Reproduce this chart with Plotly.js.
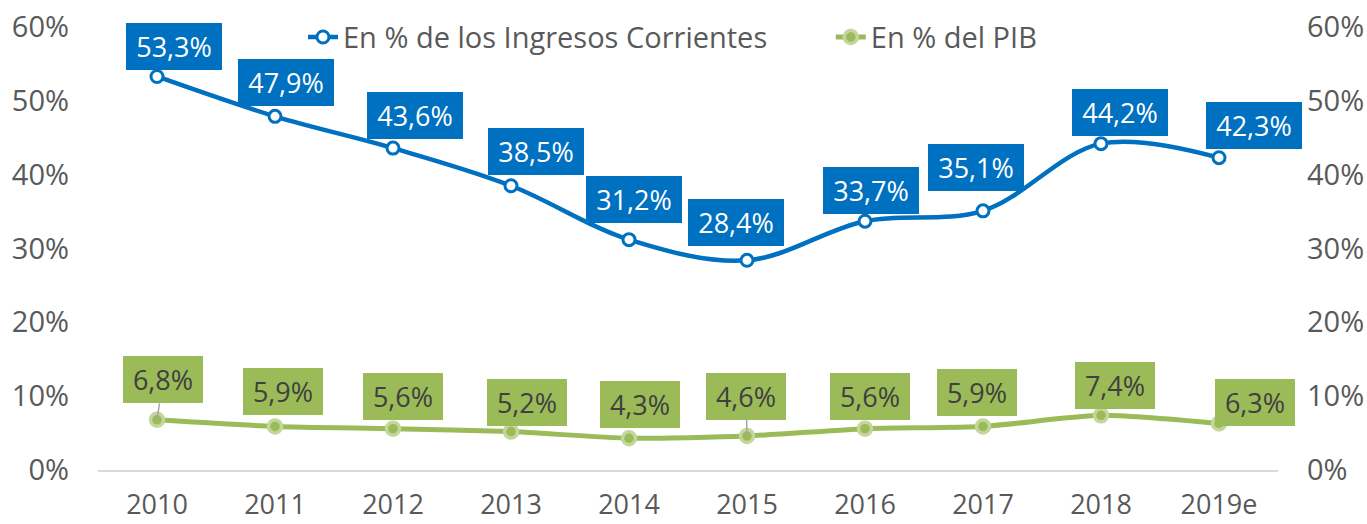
<!DOCTYPE html>
<html>
<head>
<meta charset="utf-8">
<script src="https://cdn.plot.ly/plotly-3.0.1.min.js"></script>
<style>html,body{margin:0;padding:0;background:#fff;}#chart{width:1367px;height:524px;}</style>
</head>
<body>
<div id="chart"></div>
<script>
// ---- data ----
const years = ['2010','2011','2012','2013','2014','2015','2016','2017','2018','2019e'];
const ingresosPct = [53.3, 47.9, 43.6, 38.5, 31.2, 28.4, 33.7, 35.1, 44.2, 42.3];
const pibPct = [6.8, 5.9, 5.6, 5.2, 4.3, 4.6, 5.6, 5.9, 7.4, 6.3];
const seriesNames = ['En % de los Ingresos Corrientes', 'En % del PIB'];
const yTicks = [0, 10, 20, 30, 40, 50, 60];

// ---- label placement (pixel offsets from each point, as in the original) ----
const blueOffsets = [[17,-30],[11,-34],[22,-33],[25,-34],[5,-40],[-11,-38],[6,-31],[-7,-43],[19,-31],[35,-32]];
const greenOffsets = [[6,-40],[8,-35],[10,-32],[16,-29],[11,-34],[-1,-40],[5,-32],[-6,-34],[14,-30],[36,-21]];
const greenLeader = [true,false,false,false,false,true,false,false,false,false];

const BLUE = '#0070C0', GREEN = '#9BBB59', GREEN_LIGHT = '#C3D69B';
const FONT = 'Open Sans, sans-serif';
const fmt = v => v.toFixed(1).replace('.', ',') + '%';

const traces = [
  {
    x: years, y: ingresosPct, name: seriesNames[0], type: 'scatter', mode: 'lines+markers',
    line: {color: BLUE, width: 4.5, shape: 'spline', smoothing: 1},
    marker: {symbol: 'circle', size: 12, color: '#FFFFFF', line: {color: BLUE, width: 3}},
    hoverinfo: 'skip', legend: 'legend'
  },
  {
    x: years, y: pibPct, name: seriesNames[1], type: 'scatter', mode: 'lines+markers',
    line: {color: GREEN, width: 5, shape: 'spline', smoothing: 0.6},
    marker: {symbol: 'circle', size: 13, color: GREEN, line: {color: GREEN_LIGHT, width: 3.5}},
    hoverinfo: 'skip', legend: 'legend2'
  },
  {
    x: years, y: pibPct, yaxis: 'y2', type: 'scatter', mode: 'lines',
    line: {color: 'rgba(0,0,0,0)', width: 0}, showlegend: false, hoverinfo: 'skip'
  }
];

const annotations = [];
ingresosPct.forEach((v, i) => {
  annotations.push({
    x: i, y: v, xref: 'x', yref: 'y', text: fmt(v),
    showarrow: true, arrowcolor: 'rgba(0,0,0,0)', arrowhead: 0,
    ax: blueOffsets[i][0], ay: blueOffsets[i][1],
    bgcolor: BLUE, borderpad: 4, borderwidth: 0, width: 88, height: 39,
    font: {family: FONT, size: 27, color: '#FFFFFF'}
  });
});
pibPct.forEach((v, i) => {
  annotations.push({
    x: i, y: v, xref: 'x', yref: 'y', text: fmt(v),
    showarrow: true, arrowcolor: greenLeader[i] ? '#A6A6A6' : 'rgba(0,0,0,0)', arrowhead: 0, arrowwidth: 1.5,
    standoff: 0,
    ax: greenOffsets[i][0], ay: greenOffsets[i][1],
    bgcolor: GREEN, borderpad: 4, borderwidth: 0, width: 72, height: 39,
    font: {family: FONT, size: 27, color: '#404040'}
  });
});

const yCommon = {
  range: [0, 60], tickvals: yTicks, ticktext: yTicks.map(t => t + '%'),
  showgrid: false, zeroline: false, showline: false, ticks: '',
  ticklabelstandoff: 28,
  tickfont: {family: FONT, size: 29, color: '#595959'}, fixedrange: true
};

const legendCommon = {
  orientation: 'h', y: 0.977, yanchor: 'middle', xanchor: 'left',
  font: {family: FONT, size: 29, color: '#595959'},
  bgcolor: 'rgba(0,0,0,0)', borderwidth: 0
};

const layout = {
  width: 1367, height: 524,
  margin: {l: 98, r: 89, t: 27, b: 54},
  paper_bgcolor: '#FFFFFF', plot_bgcolor: '#FFFFFF',
  showlegend: true,
  legend: Object.assign({}, legendCommon, {x: 0.1737}),
  legend2: Object.assign({}, legendCommon, {x: 0.621}),
  xaxis: {
    type: 'category', range: [-0.5, 9.5], showgrid: false, zeroline: false,
    showline: true, linecolor: '#D9D9D9', linewidth: 1.5, ticks: '',
    ticklabelstandoff: 10,
    tickfont: {family: FONT, size: 27, color: '#595959'}, fixedrange: true
  },
  yaxis: Object.assign({}, yCommon, {side: 'left'}),
  yaxis2: Object.assign({}, yCommon, {side: 'right', overlaying: 'y'}),
  annotations: annotations
};

Plotly.newPlot('chart', traces, layout, {displayModeBar: false, staticPlot: true});
</script>
</body>
</html>
